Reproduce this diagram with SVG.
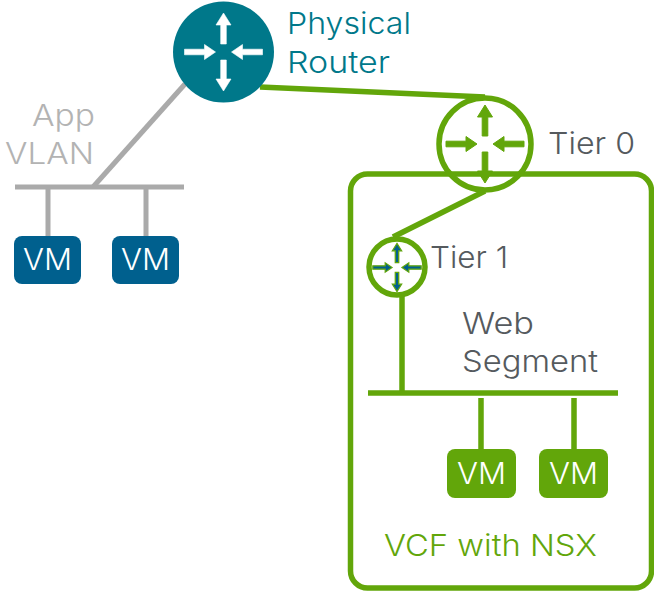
<svg xmlns="http://www.w3.org/2000/svg" width="654" height="591" viewBox="0 0 654 591">
<style>
text{font-family:"Inter","Liberation Sans",sans-serif;font-size:30px;font-weight:300}
.g{stroke:#62a60a;fill:none;stroke-width:5.500}
.a{stroke:#aaaaaa;fill:none;stroke-width:5}
.d{fill:#555a5e}
.vm{fill:#fff;text-anchor:middle}
</style>
<defs>
<g id="arrows">
<path d="M-2.800-8V-27H-7.500L0-39L7.500-27H2.800V-8Z"/>
<path d="M-2.800-8V-27H-7.500L0-39L7.500-27H2.800V-8Z" transform="rotate(180)"/>
<path d="M-39-2.800H-19V-7.500L-8 0L-19 7.500V2.800H-39Z"/>
<path d="M-39-2.800H-19V-7.500L-8 0L-19 7.500V2.800H-39Z" transform="rotate(180)"/>
</g>
</defs>
<g id="connectors">
<path class="a" d="M185 84L93 187"/>
<path class="a" d="M15 187H184M48 187V236M146 187V236"/>
<path class="g" d="M260 87L485 97"/>
<path class="g" d="M485 191L393 237"/>
<path class="g" d="M402 296V393M368 393H618M481 398V450M574 398V450"/>
</g>
<g id="physical-router">
<circle cx="223.500" cy="52" r="50.500" fill="#00788a"/>
<use href="#arrows" transform="translate(223.500 52)" fill="#fff" stroke="#fff" stroke-width=".6"/>
<text x="287" y="34" fill="#00788a" textLength="124" lengthAdjust="spacingAndGlyphs">Physical</text>
<text x="287" y="73" fill="#00788a" textLength="103" lengthAdjust="spacingAndGlyphs">Router</text>
</g>
<g id="app-vlan">
<text x="32" y="126" fill="#b3b3b3" textLength="63" lengthAdjust="spacingAndGlyphs">App</text>
<text x="5" y="164" fill="#b3b3b3" textLength="89" lengthAdjust="spacingAndGlyphs">VLAN</text>
</g>
<g id="vm-1"><rect x="14" y="236" width="67" height="48" rx="8" fill="#00608e"/><text class="vm" x="47.500" y="270" textLength="49" lengthAdjust="spacingAndGlyphs">VM</text></g>
<g id="vm-2"><rect x="112" y="236" width="67" height="48" rx="8" fill="#00608e"/><text class="vm" x="145.500" y="270" textLength="49" lengthAdjust="spacingAndGlyphs">VM</text></g>
<g id="vcf-with-nsx">
<rect x="350.500" y="174" width="301" height="414" rx="17" class="g"/>
<text x="384" y="556" fill="#62a60a" textLength="213" lengthAdjust="spacingAndGlyphs">VCF with NSX</text>
</g>
<g id="tier-0">
<circle cx="485" cy="144" r="46" class="g"/>
<use href="#arrows" transform="translate(485 144)" fill="#62a60a" stroke="#62a60a" stroke-width="1"/>
<text x="548" y="154" class="d" textLength="87" lengthAdjust="spacingAndGlyphs">Tier 0</text>
</g>
<g id="tier-1">
<circle cx="397" cy="267" r="28" class="g"/>
<use href="#arrows" transform="translate(397 267.500) scale(.62)" fill="#00608e" stroke="#62a60a" stroke-width="2"/>
<text x="430" y="268" class="d" textLength="78" lengthAdjust="spacingAndGlyphs">Tier 1</text>
</g>
<g id="web-segment">
<text x="462" y="334" class="d" textLength="72" lengthAdjust="spacingAndGlyphs">Web</text>
<text x="462" y="372" class="d" textLength="136" lengthAdjust="spacingAndGlyphs">Segment</text>
</g>
<g id="vm-3"><rect x="447" y="449" width="69" height="49" rx="8" fill="#62a60a"/><text class="vm" x="481.500" y="484" textLength="49" lengthAdjust="spacingAndGlyphs">VM</text></g>
<g id="vm-4"><rect x="539" y="449" width="69" height="49" rx="8" fill="#62a60a"/><text class="vm" x="573.500" y="484" textLength="49" lengthAdjust="spacingAndGlyphs">VM</text></g>
</svg>
